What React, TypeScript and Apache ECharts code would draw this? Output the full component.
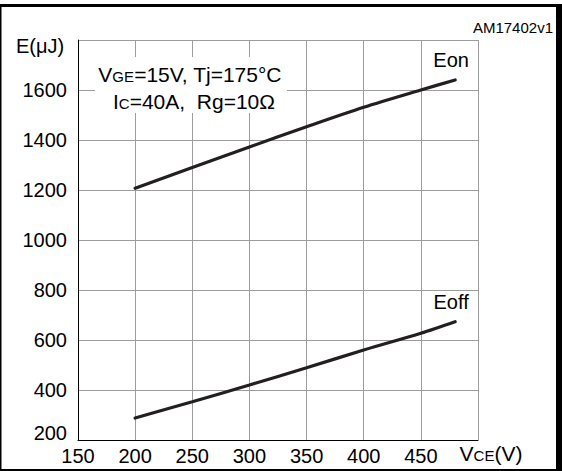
import React, { useEffect, useRef } from "react";
import * as echarts from "echarts";

const FONT = '"Liberation Sans", Arial, sans-serif';

// Collector-emitter voltage (V) and switching energies (µJ)
const vce = [200, 250, 300, 350, 400, 450, 480];
const eon = [1207, 1290, 1372, 1453, 1531, 1600, 1640];
const eoff = [288, 353, 420, 489, 560, 627, 673];

const seriesNames = ["Eon", "Eoff"];

// Axis ranges and tick spacing
const xMin = 150;
const xMax = 500;
const xStep = 50;
const yMin = 200;
const yMax = 1800;
const yStep = 200;

// Test conditions (rich text: subscripts drawn as small caps)
const conditionLines = [
  "{n|V}{s|GE}{n|=15V, Tj=175°C}",
  "{n|I}{s|C}{n|=40A,  Rg=10Ω}",
];
const xTitle = "{n|V}{s|CE}{n|(V)}";
const yTitle = "E(μJ)";
const docId = "AM17402v1";

const richText = {
  n: { fontSize: 21, fontFamily: FONT, color: "#000", verticalAlign: "bottom", lineHeight: 24 },
  s: { fontSize: 15, fontFamily: FONT, color: "#000", verticalAlign: "bottom", lineHeight: 24, padding: [0, 0, 1, 0] },
};

export default function App() {
  const ref = useRef<HTMLDivElement>(null);

  useEffect(() => {
    if (!ref.current) return;
    const chart = echarts.init(ref.current, undefined, { renderer: "svg" });

    const endLabel = (name: string, xs: number[], ys: number[]) => ({
      symbol: "circle",
      symbolSize: 0,
      silent: true,
      itemStyle: { color: "transparent" },
      label: {
        show: true,
        formatter: name,
        position: "top",
        distance: 8,
        offset: [-4, -2],
        color: "#000",
        fontSize: 20,
        fontFamily: FONT,
      },
      data: [{ coord: [xs[xs.length - 1], ys[ys.length - 1]] }],
    });

    chart.setOption({
      animation: false,
      backgroundColor: "#fff",
      grid: { left: 78, right: 84, top: 40, bottom: 31, containLabel: false },
      xAxis: {
        type: "value",
        min: xMin,
        max: xMax,
        interval: xStep,
        axisLine: { show: true, lineStyle: { color: "#000", width: 1 } },
        axisTick: { show: false },
        splitLine: { show: true, lineStyle: { color: "#9c9c9c", width: 1 } },
        axisLabel: {
          margin: 6,
          color: "#000",
          fontSize: 20,
          fontFamily: FONT,
          showMaxLabel: true,
          formatter: (v: number) => (v === xMax ? "" : String(v)),
        },
      },
      yAxis: {
        type: "value",
        min: yMin,
        max: yMax,
        interval: yStep,
        axisLine: { show: true, lineStyle: { color: "#000", width: 1 } },
        axisTick: { show: false },
        splitLine: { show: true, lineStyle: { color: "#9c9c9c", width: 1 } },
        axisLabel: {
          margin: 11,
          color: "#000",
          fontSize: 20,
          fontFamily: FONT,
          showMaxLabel: true,
          formatter: (v: number) =>
            v === yMax ? "" : v === yMin ? "{lo|" + v + "}" : String(v),
          rich: {
            lo: { fontSize: 20, fontFamily: FONT, color: "#000", padding: [0, 0, 14, 0] },
          },
        },
      },
      series: [
        {
          name: seriesNames[0],
          type: "line",
          data: vce.map((x, i) => [x, eon[i]]),
          smooth: 0.3,
          symbol: "none",
          lineStyle: { color: "#231f20", width: 3.2, cap: "round" },
          z: 5,
          markPoint: endLabel(seriesNames[0], vce, eon),
        },
        {
          name: seriesNames[1],
          type: "line",
          data: vce.map((x, i) => [x, eoff[i]]),
          smooth: 0.3,
          symbol: "none",
          lineStyle: { color: "#231f20", width: 3.2, cap: "round" },
          z: 5,
          markPoint: endLabel(seriesNames[1], vce, eoff),
        },
      ],
      graphic: [
        // outer frame
        { type: "rect", z: 10, shape: { x: 0, y: 4, width: 562, height: 3 }, style: { fill: "#000" } },
        { type: "rect", z: 10, shape: { x: 556, y: 4, width: 6, height: 467 }, style: { fill: "#000" } },
        { type: "rect", z: 10, shape: { x: 0, y: 469, width: 562, height: 2 }, style: { fill: "#000" } },
        { type: "rect", z: 10, shape: { x: 0, y: 4, width: 1.5, height: 467 }, style: { fill: "#000" } },
        // document id
        {
          type: "text",
          z: 10,
          style: { text: docId, x: 553, y: 27, align: "right", verticalAlign: "middle", fontSize: 15, fontFamily: FONT, fill: "#000" },
        },
        // axis titles
        {
          type: "text",
          z: 10,
          style: { text: yTitle, x: 40, y: 46, align: "center", verticalAlign: "middle", fontSize: 20, fontFamily: FONT, fill: "#000" },
        },
        {
          type: "text",
          z: 10,
          style: { text: xTitle, rich: richText, x: 491, y: 452, align: "center", verticalAlign: "middle", fill: "#000" },
        },
        // condition box
        { type: "rect", z: 3, shape: { x: 95, y: 57, width: 192, height: 56 }, style: { fill: "#fff" } },
        {
          type: "text",
          z: 4,
          style: { text: conditionLines[0], rich: richText, x: 190, y: 73, align: "center", verticalAlign: "middle", fill: "#000" },
        },
        {
          type: "text",
          z: 4,
          style: { text: conditionLines[1], rich: richText, x: 194, y: 100, align: "center", verticalAlign: "middle", fill: "#000" },
        },
      ],
    });

    return () => chart.dispose();
  }, []);

  return (
    <div
      ref={ref}
      style={{ position: "absolute", left: 0, top: 0, width: 562, height: 471 }}
    />
  );
}
